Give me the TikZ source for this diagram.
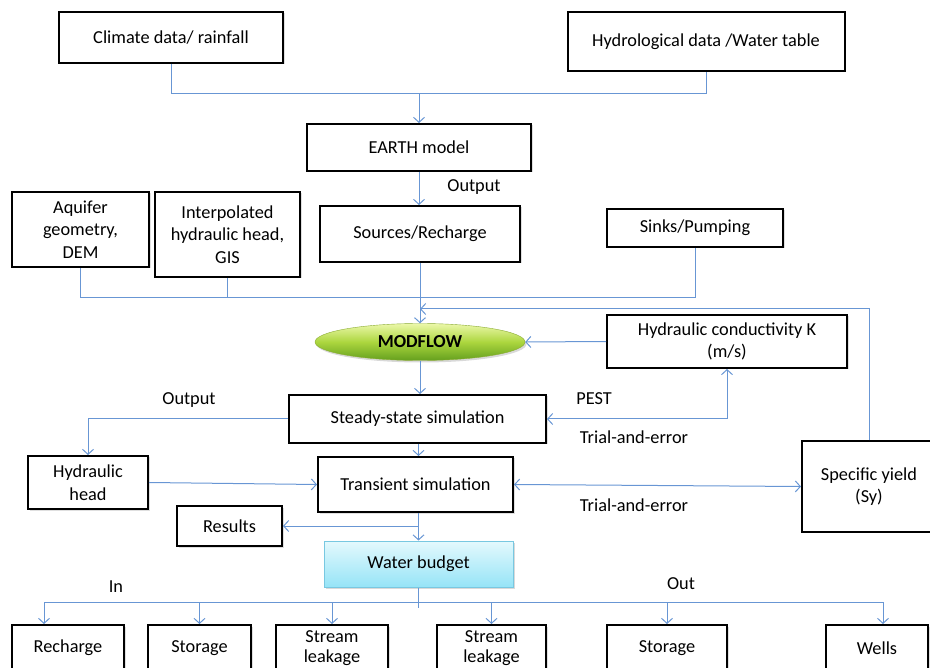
\documentclass[tikz,border=0pt]{standalone}
\usepackage{fontspec}
\setmainfont{Carlito}
\usetikzlibrary{arrows.meta,shapes.geometric,shadows}
\definecolor{linkblue}{RGB}{104,150,212}
\definecolor{wbtop}{RGB}{228,249,253}
\definecolor{wbbot}{RGB}{150,228,247}
\definecolor{wbborder}{RGB}{120,200,225}
\definecolor{mftop}{RGB}{236,248,170}
\definecolor{mfmid}{RGB}{172,214,62}
\definecolor{mfbot}{RGB}{100,160,30}
\begin{document}
\begin{tikzpicture}[x=1pt,y=-1pt,
  font=\fontsize{18.3}{22.5}\selectfont,
  box/.style={draw=black, line width=2pt, fill=white, align=center, inner sep=2pt,
    drop shadow={opacity=0.25, shadow xshift=1.5pt, shadow yshift=-1.5pt}},
  botbox/.style={box, minimum height=46pt, font=\fontsize{18.3}{20}\selectfont},
  lbl/.style={inner sep=0pt, anchor=center},
  line/.style={draw=linkblue, line width=1pt},
  arr/.style={line, -{Straight Barb[length=5pt,width=11pt]}},
  arrtwo/.style={line, {Straight Barb[length=5pt,width=11pt]}-{Straight Barb[length=5pt,width=11pt]}}
]
\useasboundingbox (0,0) rectangle (930,668);
\clip (0,0) rectangle (930,668);

% top
\node[box, minimum width=224pt, minimum height=51pt] (clim) at (171,37.5) {Climate data/ rainfall};
\node[box, minimum width=277pt, minimum height=59pt] (hydro) at (706,41.5) {Hydrological data /Water table};
\node[box, minimum width=224pt, minimum height=47pt] (earth) at (419,147.5) {EARTH model};
\node[lbl] (outa) at (474,187) {Output};

\node[box, minimum width=137pt, minimum height=75pt] (aquifer) at (80.5,229.5) {Aquifer\\geometry,\\DEM};
\node[box, minimum width=145pt, minimum height=85pt] (interp) at (227.5,234.5) {Interpolated\\hydraulic head,\\GIS};
\node[box, minimum width=200pt, minimum height=56pt] (sources) at (420,234) {Sources/Recharge};
\node[box, minimum width=176pt, minimum height=38pt] (sinks) at (695,228) {Sinks/Pumping};

\node[ellipse, minimum width=210pt, minimum height=37pt, inner sep=0pt,
  top color=mftop, bottom color=mfbot, middle color=mfmid, draw=mfmid!80!black, line width=0.4pt,
  drop shadow={opacity=0.3, shadow xshift=1.5pt, shadow yshift=-2pt},
  font=\fontsize{18.3}{22}\selectfont\bfseries] (modflow) at (420,342) {MODFLOW};
\node[box, minimum width=240pt, minimum height=53pt] (hk) at (727,341.5) {Hydraulic conductivity K\\(m/s)};

\node[box, minimum width=257pt, minimum height=48pt] (steady) at (417.5,419) {Steady-state simulation};
\node[lbl] (outb) at (189,400) {Output};
\node[lbl] (pest) at (594,399) {PEST};
\node[lbl] (trialone) at (634,437) {Trial-and-error};

\node[box, minimum width=120pt, minimum height=53pt] (hhead) at (88,482.5) {Hydraulic\\head};
\node[box, minimum width=195pt, minimum height=55pt] (trans) at (415.5,484.5) {Transient simulation};
\node[box, minimum width=134pt, minimum height=90pt] (sy) at (869,486.5) {Specific yield\\(Sy)};
\node[lbl] (trialtwo) at (634,505) {Trial-and-error};

\node[box, minimum width=105pt, minimum height=40pt] (results) at (229.5,526) {Results};
\node[draw=wbborder, line width=1pt, top color=wbtop, bottom color=wbbot,
  minimum width=189pt, minimum height=46pt,
  drop shadow={opacity=0.3, shadow xshift=1.5pt, shadow yshift=-2pt}] (wb) at (418.5,564) {Water budget};
\node[lbl] (inlbl) at (116,587) {In};
\node[lbl] (outlbl) at (681,584) {Out};

% bottom boxes
\node[botbox, minimum width=112pt] (rech) at (68,648) {Recharge};
\node[botbox, minimum width=103pt] (storone) at (199.5,648) {Storage};
\node[botbox, minimum width=112pt] (slone) at (332,648) {Stream\\leakage};
\node[botbox, minimum width=109pt] (sltwo) at (491.5,648) {Stream\\leakage};
\node[botbox, minimum width=120pt] (stortwo) at (667,648) {Storage};
\node[botbox, minimum width=102pt] (wells) at (877,648) {Wells};

% connectors top
\coordinate (jtop) at (419,94);
\draw[line] (clim.south) |- (hydro.south |- jtop) -- (hydro.south);
\draw[arr] (jtop) -- (earth.north);
\draw[arr] (earth.south) -- (earth.south |- sources.north);

\coordinate (jmid) at (420,298);
\draw[line] (aquifer.south) |- (sinks.south |- jmid) -- (sinks.south);
\draw[line] (interp.south) -- (interp.south |- jmid);
\draw[arr] (sources.south) -- (modflow.north);
\coordinate (jloop) at (420,309);
\draw[arr] (sy.north) |- (jloop);

\draw[arr] (hk.west) -- (modflow.east);
\draw[arr] (modflow.south) -- (modflow.south |- steady.north);
\draw[arrtwo] (steady.east) -| (hk.south);
\draw[arr] (steady.west) -| (hhead.north);
\draw[arr] (wb.north |- steady.south) -- (wb.north |- trans.north);
\draw[arr] (hhead.east) -- (trans.west);
\draw[arrtwo] (trans.east) -- (sy.west);
\draw[arr] (wb.north |- trans.south) -- (wb.north);
\draw[arr] (wb.north |- results.east) -- (results.east);

% bus to bottom
\coordinate (busL) at (44,602);
\coordinate (busR) at (883,602);
\draw[line] (wb.south) -- ++(0,20);
\draw[line] (busL) -- (busR);
\draw[arr] (busL) -- (busL |- rech.north);
\draw[arr] (storone.north |- busL) -- (storone.north);
\draw[arr] (slone.north |- busL) -- (slone.north);
\draw[arr] (sltwo.north |- busL) -- (sltwo.north);
\draw[arr] (stortwo.north |- busL) -- (stortwo.north);
\draw[arr] (busR) -- (busR |- wells.north);
\end{tikzpicture}
\end{document}
